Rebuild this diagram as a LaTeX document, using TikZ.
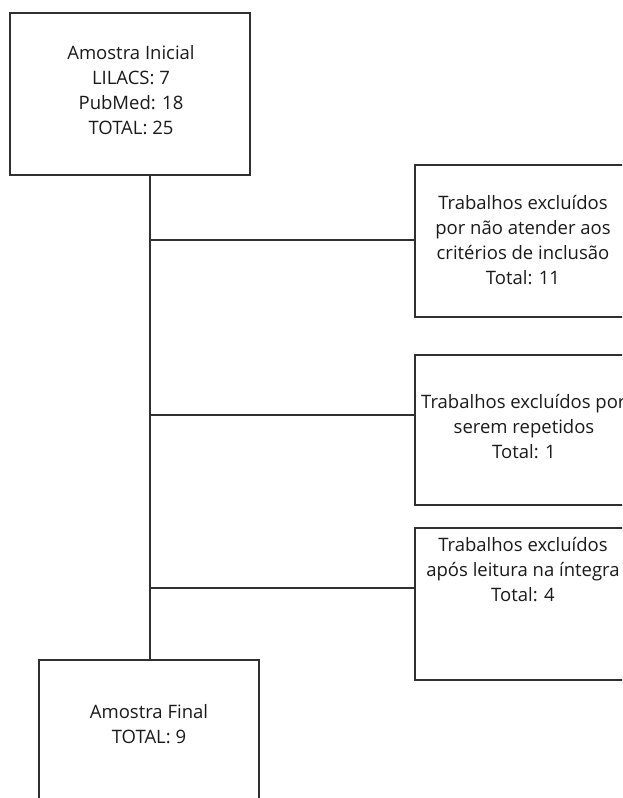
\documentclass[tikz,border=0pt]{standalone}
\usepackage{fontspec}
\setmainfont{Open Sans}
\definecolor{ink}{HTML}{1A1A1A}
\definecolor{edge}{HTML}{303030}
\begin{document}
\begin{tikzpicture}[x=1pt,y=-1pt,
  box/.style={draw=edge,line width=1.4pt,rectangle,inner sep=0pt},
  lbl/.style={text=ink,align=center,inner sep=0pt,font=\fontsize{18.5}{25}\selectfont},
  conn/.style={draw=edge,line width=1.4pt}]
\useasboundingbox (0,0) rectangle (622,798);
\begin{scope}
\clip (0,0) rectangle (622,798);
\node[box,minimum width=240pt,minimum height=162pt] (top) at (130,94) {};
\node[box,minimum width=218pt,minimum height=152pt] (b1) at (524,241) {};
\node[box,minimum width=218pt,minimum height=150pt] (b2) at (524,430) {};
\node[box,minimum width=218pt,minimum height=152pt] (b3) at (524,604) {};
\node[box,minimum width=220pt,minimum height=170pt] (fin) at (149,745) {};
\node[lbl,anchor=north west] (tb2a) at (421,394) {Trabalhos excluídos por};
\end{scope}
\node[lbl] (ttop) at (131,90.5) {Amostra Inicial\\LILACS: 7\\PubMed: 18\\TOTAL: 25};
\node[lbl] (tb1) at (523,240.5) {Trabalhos excluídos\\por não atender aos\\critérios de inclusão\\Total: 11};
\node[lbl,anchor=north] (tb2) at (524,419) {serem repetidos\\Total: 1};
\node[lbl] (tb3) at (523,569.5) {Trabalhos excluídos\\após leitura na íntegra\\Total: 4};
\node[lbl] (tfin) at (149,724.5) {Amostra Final\\TOTAL: 9};
\coordinate (trunk) at (150,175);
\draw[conn] (trunk) -- (trunk |- fin.north);
\draw[conn] (trunk |- 0,240) -- (b1.west |- 0,240);
\draw[conn] (trunk |- 0,415) -- (b2.west |- 0,415);
\draw[conn] (trunk |- 0,588) -- (b3.west |- 0,588);
\end{tikzpicture}
\end{document}
